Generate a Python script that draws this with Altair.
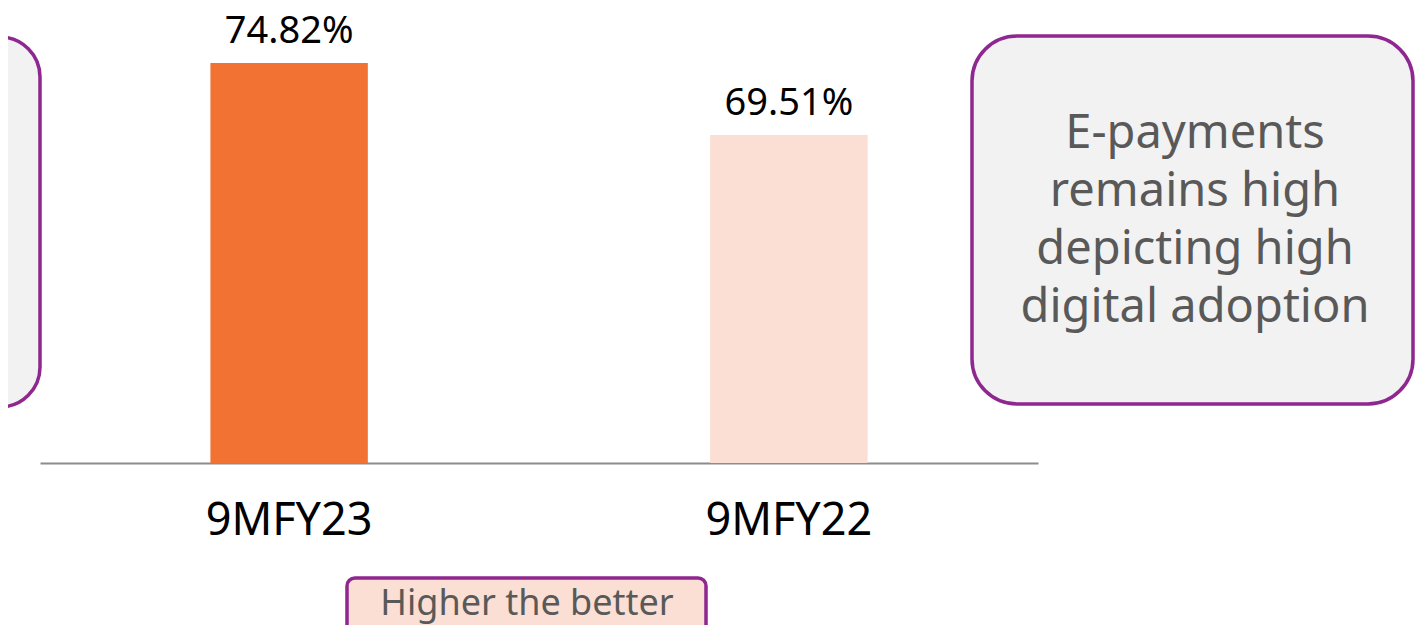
import altair as alt
import pandas as pd

categories = ["9MFY23", "9MFY22"]
values = [74.82, 69.51]
bar_colors = ["#F27234", "#FBDED4"]
note_lines = ["E-payments", "remains high", "depicting high", "digital adoption"]
footer_text = "Higher the better"

df = pd.DataFrame({"period": categories, "value": values})

PURPLE = "#8E278F"
GRAY_TEXT = "#595959"
FONT = "Noto Sans"
one = alt.Data(values=[{"k": 1}])

x_enc = alt.X(
    "period:N",
    sort=categories,
    scale=alt.Scale(range=[32, 1030], paddingInner=0.685, paddingOuter=0.341),
    axis=alt.Axis(
        title=None, labelAngle=0, ticks=False, domainColor="#8c8c8c", domainWidth=2,
        labelFontSize=45, labelFont=FONT, labelColor="#000000", labelPadding=35,
    ),
)
y_enc = alt.Y("value:Q", scale=alt.Scale(domain=[45.32, 78.88], zero=False, nice=False, clamp=True), axis=None)

bars = alt.Chart(df).mark_bar().encode(
    x=x_enc,
    y=y_enc,
    color=alt.Color("period:N", scale=alt.Scale(domain=categories, range=bar_colors), legend=None),
)

labels = alt.Chart(df).transform_calculate(
    label="format(datum.value, '.2f') + '%'"
).mark_text(font=FONT, fontSize=38, color="#000000", baseline="alphabetic", dy=-20).encode(
    x=alt.X("period:N", sort=categories), y=alt.Y("value:Q"), text="label:N"
)

left_box = alt.Chart(one).mark_rect(
    fill="#F2F2F2", stroke=PURPLE, strokeWidth=3.5, cornerRadius=40
).encode(x=alt.value(-68), x2=alt.value(32), y=alt.value(29), y2=alt.value(399))

right_box = alt.Chart(one).mark_rect(
    fill="#F2F2F2", stroke=PURPLE, strokeWidth=3.5, cornerRadius=45
).encode(x=alt.value(964), x2=alt.value(1405), y=alt.value(28), y2=alt.value(396))

right_text = alt.Chart(one).mark_text(
    text=note_lines, font=FONT, fontSize=47, color=GRAY_TEXT, align="center",
    baseline="alphabetic", lineHeight=58,
).encode(x=alt.value(1187), y=alt.value(140))

footer_box = alt.Chart(one).mark_rect(
    fill="#FBDED4", stroke=PURPLE, strokeWidth=3.5, cornerRadius=8
).encode(x=alt.value(339), x2=alt.value(698), y=alt.value(570), y2=alt.value(640))

footer = alt.Chart(one).mark_text(
    text=footer_text, font=FONT, fontSize=36, color=GRAY_TEXT, align="center", baseline="alphabetic"
).encode(x=alt.value(519), y=alt.value(607))

chart = alt.layer(left_box, right_box, right_text, bars, labels, footer_box, footer).properties(
    width=1408, height=455,
    autosize=alt.AutoSizeParams(type="none"),
    padding={"left": 0, "top": 0, "right": 0, "bottom": 162},
    background="white",
).configure_view(stroke=None)

chart.save("out.html", embed_options={"renderer": "svg", "actions": False})
